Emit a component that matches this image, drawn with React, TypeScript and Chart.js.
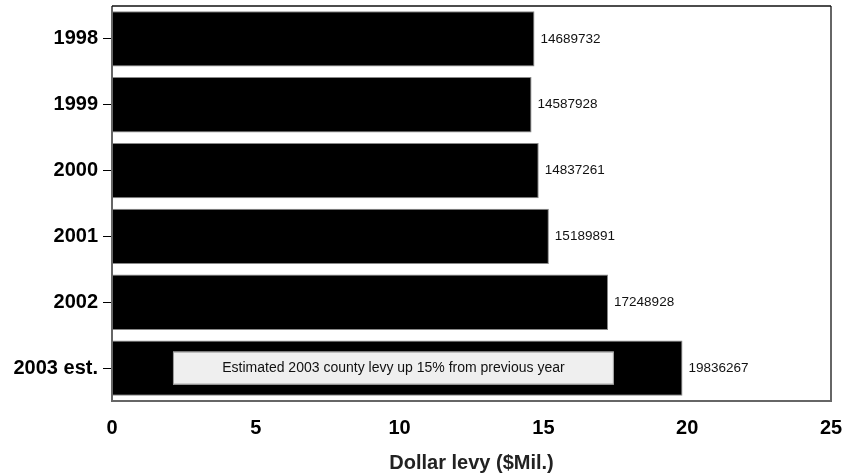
import React, { useEffect, useRef } from "react";
import { Chart, registerables } from "chart.js";

Chart.register(...registerables);

const categories = ["1998", "1999", "2000", "2001", "2002", "2003 est."];
const levyRaw = [14689732, 14587928, 14837261, 15189891, 17248928, 19836267];
const levyMillions = levyRaw.map((v) => v / 1e6);
const xTicks = [0, 5, 10, 15, 20, 25];
const annotationText = "Estimated 2003 county levy up 15% from previous year";
const annotationRange = [2.12, 17.45];
const annotationCategory = "2003 est.";

const FONT = "'Liberation Sans', Arial, sans-serif";

const borderPlugin = {
  id: "plotBorder",
  afterDraw(chart: any) {
    const { ctx, chartArea } = chart;
    const { left, right, top, bottom } = chartArea;
    ctx.save();
    ctx.strokeStyle = "#666";
    ctx.lineWidth = 2;
    ctx.beginPath();
    ctx.moveTo(left, top);
    ctx.lineTo(left, bottom);
    ctx.lineTo(right, bottom);
    ctx.lineTo(right, top);
    ctx.stroke();
    ctx.strokeStyle = "#111";
    ctx.lineWidth = 1.5;
    ctx.beginPath();
    ctx.moveTo(left, top);
    ctx.lineTo(right, top);
    ctx.stroke();
    ctx.restore();
  },
};

const valueLabelPlugin = {
  id: "valueLabels",
  afterDatasetsDraw(chart: any) {
    const { ctx } = chart;
    const meta = chart.getDatasetMeta(0);
    ctx.save();
    ctx.font = `13.5px ${FONT}`;
    ctx.fillStyle = "#111";
    ctx.textAlign = "left";
    ctx.textBaseline = "middle";
    meta.data.forEach((bar: any, i: number) => {
      ctx.fillText(String(levyRaw[i]), bar.x + 6, bar.y);
    });
    ctx.restore();
  },
};

const annotationPlugin = {
  id: "noteBox",
  afterDatasetsDraw(chart: any) {
    const { ctx, scales } = chart;
    const x0 = scales.x.getPixelForValue(annotationRange[0]);
    const x1 = scales.x.getPixelForValue(annotationRange[1]);
    const yc = scales.y.getPixelForValue(categories.indexOf(annotationCategory));
    const h = 33;
    ctx.save();
    ctx.fillStyle = "#efefef";
    ctx.fillRect(x0, yc - h / 2, x1 - x0, h);
    ctx.strokeStyle = "#999";
    ctx.lineWidth = 1;
    ctx.strokeRect(x0 + 0.5, yc - h / 2 + 0.5, x1 - x0 - 1, h - 1);
    ctx.fillStyle = "#111";
    ctx.font = `14px ${FONT}`;
    ctx.textAlign = "center";
    ctx.textBaseline = "middle";
    ctx.fillText(annotationText, (x0 + x1) / 2, yc);
    ctx.restore();
  },
};

export default function App() {
  const ref = useRef<HTMLCanvasElement>(null);
  useEffect(() => {
    document.body.style.margin = "0";
    const chart = new Chart(ref.current!, {
      type: "bar",
      data: {
        labels: categories,
        datasets: [
          {
            data: levyMillions,
            backgroundColor: "#000",
            borderColor: "#888",
            borderWidth: 1,
            barPercentage: 0.84,
            categoryPercentage: 1,
          },
        ],
      },
      options: {
        indexAxis: "y",
        animation: false,
        responsive: false,
        layout: { padding: { top: 6, right: 14, left: 0, bottom: 0 } },
        plugins: { legend: { display: false }, tooltip: { enabled: false } },
        scales: {
          x: {
            min: 0,
            max: 25,
            afterBuildTicks(scale: any) {
              scale.ticks = xTicks.map((v) => ({ value: v }));
            },
            afterFit(scale: any) {
              scale.height = 74;
              scale.paddingLeft = 0;
              scale.paddingRight = 0;
            },
            grid: { display: false, drawTicks: false },
            border: { display: false },
            ticks: {
              color: "#000",
              font: { family: FONT, size: 20, weight: "bold" },
              padding: 15,
            },
            title: {
              display: true,
              text: "Dollar levy ($Mil.)",
              color: "#222",
              font: { family: FONT, size: 20, weight: "bold" },
              padding: { top: 0, bottom: 0 },
            },
          },
          y: {
            afterFit(scale: any) {
              scale.width = 112;
              scale.paddingTop = 0;
              scale.paddingBottom = 0;
            },
            grid: {
              drawOnChartArea: false,
              drawTicks: true,
              tickLength: 9,
              offset: false,
              color: "#000",
            },
            border: { display: false },
            ticks: {
              color: "#000",
              font: { family: FONT, size: 20, weight: "bold" },
              padding: 5,
            },
          },
        },
      },
      plugins: [borderPlugin, annotationPlugin, valueLabelPlugin],
    } as any);
    return () => chart.destroy();
  }, []);
  return <canvas ref={ref} width={845} height={475} style={{ display: "block" }} />;
}
